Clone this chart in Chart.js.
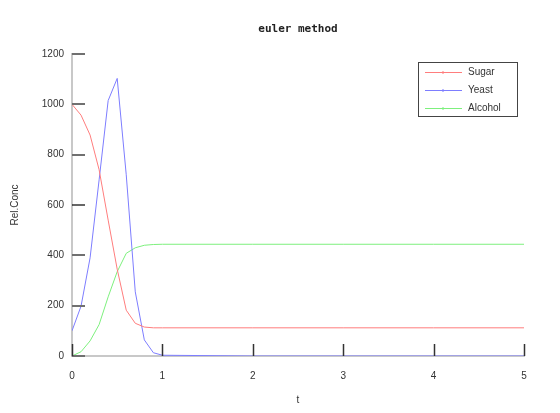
<!DOCTYPE html>
<html>
<head>
<meta charset="utf-8">
<script src="https://cdn.jsdelivr.net/npm/chart.js@4.4.0/dist/chart.umd.min.js"></script>
<style>
  html, body { margin: 0; padding: 0; background: #fff; }
  #wrap { width: 560px; height: 413px; }
</style>
</head>
<body>
<div id="wrap"><canvas id="grafico" width="560" height="413"></canvas></div>
<script>
// values (euler steps of 0.1, flat after t=1)
var tValues = [0, 0.1, 0.2, 0.3, 0.4, 0.5, 0.6, 0.7, 0.8, 0.9, 1.0, 2, 3, 4, 5];
var sugar   = [1000, 957, 878, 740, 540, 345, 182, 130, 115, 112, 112, 112, 112, 112, 112];
var yeast   = [100, 198, 390, 700, 1015, 1103, 720, 255, 64, 13, 3, 0, 0, 0, 0];
var alcohol = [0, 17, 60, 125, 235, 335, 408, 430, 440, 443, 444, 444, 444, 444, 444];
var xTicks = [0, 1, 2, 3, 4, 5];
var yTicks = [0, 200, 400, 600, 800, 1000, 1200];

var seriesNames = ['Sugar', 'Yeast', 'Alcohol'];
var seriesColors = ['rgb(255,125,125)', 'rgb(125,125,255)', 'rgb(125,240,125)'];
var chartTitle = 'euler method';

function toPoints(vals) {
    var pts = [];
    for (var i = 0; i < tValues.length; i++) {
        pts.push({x: tValues[i], y: vals[i]});
    }
    return pts;
}

var allSeries = [sugar, yeast, alcohol];
var datasets = [];
for (var i = 0; i < allSeries.length; i++) {
    datasets.push({
        label: seriesNames[i],
        data: toPoints(allSeries[i]),
        borderColor: seriesColors[i],
        backgroundColor: seriesColors[i],
        borderWidth: 1,
        pointRadius: 0,
        tension: 0,
        fill: false
    });
}

var labelFont = { family: '"Liberation Sans", Arial, sans-serif', size: 10 };

// title over the plot area, inward tick marks, boxed legend
var marksPlugin = {
    id: 'marks',
    afterDraw: function (chart) {
        var ctx = chart.ctx;
        var xs = chart.scales.x, ys = chart.scales.y;
        var area = chart.chartArea;
        ctx.save();

        ctx.fillStyle = '#222';
        ctx.font = 'bold 11px "DejaVu Sans Mono", monospace';
        ctx.textAlign = 'center';
        ctx.textBaseline = 'middle';
        ctx.fillText(chartTitle, (area.left + area.right) / 2, 29);
        ctx.textAlign = 'left';

        ys.ticks.forEach(function (t) {
            var py = Math.round(ys.getPixelForValue(t.value));
            ctx.beginPath();
            ctx.strokeStyle = t.value === 600 ? '#000' : '#707070';
            ctx.lineWidth = t.value === 600 ? 1.2 : 2;
            ctx.moveTo(xs.left, py);
            ctx.lineTo(xs.left + 13, py);
            ctx.stroke();
        });
        xs.ticks.forEach(function (t) {
            var px = Math.round(xs.getPixelForValue(t.value)) + 0.5;
            ctx.beginPath();
            ctx.strokeStyle = '#333';
            ctx.lineWidth = 1.5;
            ctx.moveTo(px, ys.bottom);
            ctx.lineTo(px, ys.bottom - 12);
            ctx.stroke();
        });

        // legend box
        var bx = 418.5, by = 62.5, bw = 99, bh = 54;
        ctx.fillStyle = '#fff';
        ctx.fillRect(bx, by, bw, bh);
        ctx.strokeStyle = '#444';
        ctx.lineWidth = 1;
        ctx.strokeRect(bx, by, bw, bh);
        ctx.font = '10px "Liberation Sans", Arial, sans-serif';
        ctx.textBaseline = 'middle';
        chart.data.datasets.forEach(function (ds, k) {
            var ly = 72.5 + k * 18;
            ctx.beginPath();
            ctx.strokeStyle = ds.borderColor;
            ctx.lineWidth = 1;
            ctx.moveTo(425, ly);
            ctx.lineTo(462, ly);
            ctx.stroke();
            ctx.fillStyle = ds.borderColor;
            ctx.fillRect(442, ly - 1, 2, 2);
            ctx.fillStyle = '#333';
            ctx.fillText(ds.label, 468, ly);
        });
        ctx.restore();
    }
};

var ctx = document.getElementById('grafico');
var chart = new Chart(ctx, {
    type: 'line',
    data: { datasets: datasets },
    options: {
        responsive: false,
        animation: false,
        devicePixelRatio: 1,
        layout: { padding: { top: 54, right: 36, left: 0, bottom: 0 } },
        plugins: {
            legend: { display: false },
            tooltip: { enabled: false },
            title: { display: false }
        },
        scales: {
            x: {
                type: 'linear',
                min: 0,
                max: 5,
                afterBuildTicks: function (s) { s.ticks = xTicks.map(function (v) { return {value: v}; }); },
                afterFit: function (s) { s.height = 57; },
                grid: { display: false, drawTicks: false },
                border: { display: true, color: '#c8c8c8', width: 2 },
                ticks: {
                    padding: 14,
                    color: '#333',
                    font: labelFont,
                    maxRotation: 0,
                    callback: function (v) { return String(v); }
                },
                title: {
                    display: true,
                    text: 't',
                    color: '#333',
                    font: labelFont,
                    padding: { top: 0, bottom: 7 }
                }
            },
            y: {
                min: 0,
                max: 1200,
                afterBuildTicks: function (s) { s.ticks = yTicks.map(function (v) { return {value: v}; }); },
                afterFit: function (s) { s.width = 72; },
                grid: { display: false, drawTicks: false },
                border: { display: true, color: '#c8c8c8', width: 2 },
                ticks: {
                    padding: 8,
                    color: '#333',
                    font: labelFont,
                    callback: function (v) { return String(v); }
                },
                title: {
                    display: true,
                    text: 'Rel.Conc',
                    color: '#333',
                    font: labelFont,
                    padding: { top: 9, bottom: 0 }
                }
            }
        }
    },
    plugins: [marksPlugin]
});
</script>
</body>
</html>
